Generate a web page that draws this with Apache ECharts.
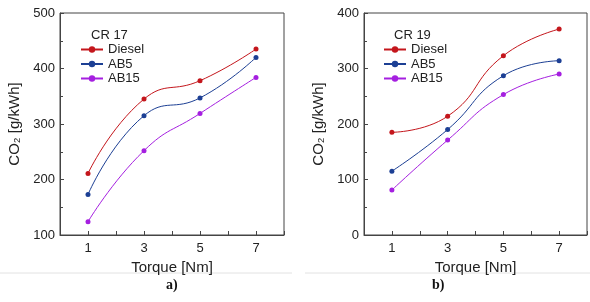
<!DOCTYPE html>
<html>
<head>
<meta charset="utf-8">
<script src="https://cdn.jsdelivr.net/npm/echarts@6/dist/echarts.min.js"></script>
<style>
  html, body { margin: 0; padding: 0; background: #fff; }
  #chart { width: 590px; height: 302px; }
</style>
</head>
<body>
<div id="chart"></div>
<script>
// torque points (Nm)
const torque = [1, 3, 5, 7];

// CR 17 panel
const diesel17 = [211, 345, 378, 435];
const ab5_17 = [173, 315, 347, 420];
const ab15_17 = [124, 252, 319, 384];

// CR 19 panel
const diesel19 = [185, 214, 323, 371];
const ab5_19 = [115, 190, 287, 314];
const ab15_19 = [81, 171, 253, 290];

const seriesNames = ['Diesel', 'AB5', 'AB15'];
const colors = ['#c4161c', '#1c3f94', '#a51fe0'];

const chart = echarts.init(document.getElementById('chart'));

const font = 'Liberation Sans, Arial, sans-serif';
const axisColor = '#444';

function xAxisFor(gridIndex) {
  return {
    type: 'value',
    gridIndex,
    min: 0,
    max: 8,
    interval: 1,
    name: 'Torque [Nm]',
    nameLocation: 'middle',
    nameGap: 24,
    nameTextStyle: { fontFamily: font, fontSize: 15, color: '#222' },
    axisLine: { lineStyle: { color: axisColor, width: 1 } },
    axisTick: { inside: true, length: 4, lineStyle: { color: axisColor } },
    axisLabel: {
      fontFamily: font, fontSize: 13, color: '#222', margin: 7,
      formatter: v => (v % 2 === 1 ? String(v) : '')
    },
    splitLine: { show: false }
  };
}

function yAxisFor(gridIndex, min, max) {
  return {
    type: 'value',
    gridIndex,
    min,
    max,
    interval: 100,
    name: 'CO\u2082 [g/kWh]',
    nameLocation: 'middle',
    nameGap: 38,
    nameTextStyle: { fontFamily: font, fontSize: 15, color: '#222' },
    axisLine: { show: true, lineStyle: { color: axisColor, width: 1 } },
    axisTick: { inside: true, length: 4, lineStyle: { color: axisColor } },
    minorTick: { show: true, splitNumber: 2, length: 3, lineStyle: { color: axisColor } },
    axisLabel: { fontFamily: font, fontSize: 13, color: '#222', margin: 5 },
    splitLine: { show: false }
  };
}

function makeSeries(values, idx, gridIdx) {
  return {
    name: seriesNames[idx],
    type: 'line',
    xAxisIndex: gridIdx,
    yAxisIndex: gridIdx,
    data: torque.map((t, i) => [t, values[i]]),
    smooth: 0.5,
    symbol: 'circle',
    symbolSize: 5,
    lineStyle: { color: colors[idx], width: 1 },
    itemStyle: { color: colors[idx] }
  };
}

const legendBase = {
  orient: 'vertical',
  padding: 0,
  itemWidth: 22,
  itemHeight: 8,
  itemGap: 1.5,
  textStyle: { fontFamily: font, fontSize: 13, color: '#222' },
  data: seriesNames
};

const option = {
  animation: false,
  backgroundColor: '#fff',
  grid: [
    { left: 60, top: 13, width: 224, height: 222, show: true, borderColor: axisColor, borderWidth: 1 },
    { left: 364, top: 13, width: 223, height: 222, show: true, borderColor: axisColor, borderWidth: 1 }
  ],
  xAxis: [xAxisFor(0), xAxisFor(1)],
  yAxis: [yAxisFor(0, 100, 500), yAxisFor(1, 0, 400)],
  title: [
    { text: 'CR 17', left: 91, top: 29, padding: 0, textStyle: { fontFamily: font, fontSize: 13, fontWeight: 'normal', color: '#222' } },
    { text: 'CR 19', left: 394, top: 29, padding: 0, textStyle: { fontFamily: font, fontSize: 13, fontWeight: 'normal', color: '#222' } },
    { text: 'a)', left: 166, top: 278, padding: 0, textStyle: { fontFamily: 'Liberation Serif, serif', fontSize: 14, fontWeight: 'bold', color: '#111' } },
    { text: 'b)', left: 432, top: 278, padding: 0, textStyle: { fontFamily: 'Liberation Serif, serif', fontSize: 14, fontWeight: 'bold', color: '#111' } }
  ],
  legend: [
    Object.assign({}, legendBase, { left: 80, top: 43 }),
    Object.assign({}, legendBase, { left: 383, top: 43 })
  ],
  graphic: [
    { type: 'line', shape: { x1: 0, y1: 273, x2: 292, y2: 273 }, style: { stroke: '#e2e2e2', lineWidth: 1 } },
    { type: 'line', shape: { x1: 305, y1: 273, x2: 590, y2: 273 }, style: { stroke: '#e2e2e2', lineWidth: 1 } }
  ],
  series: [
    makeSeries(diesel17, 0, 0),
    makeSeries(ab5_17, 1, 0),
    makeSeries(ab15_17, 2, 0),
    makeSeries(diesel19, 0, 1),
    makeSeries(ab5_19, 1, 1),
    makeSeries(ab15_19, 2, 1)
  ]
};

chart.setOption(option);
</script>
</body>
</html>
